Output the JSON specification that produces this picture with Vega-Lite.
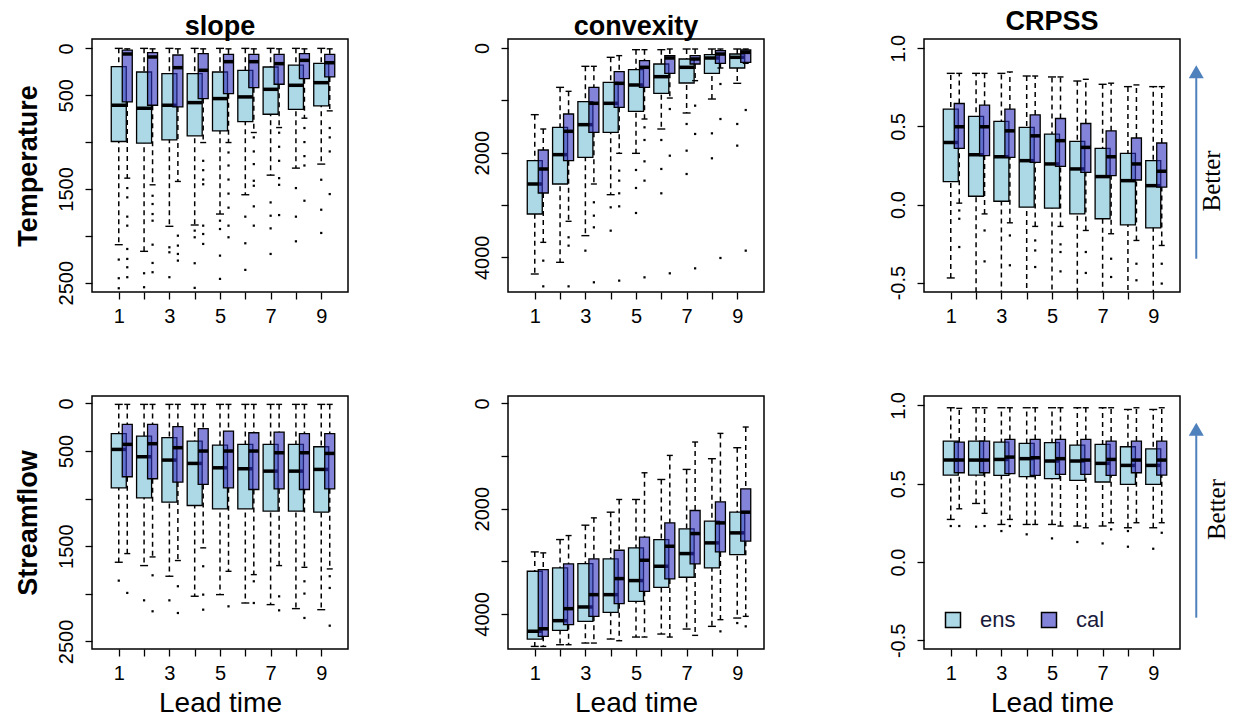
{
"$schema":"https://vega.github.io/schema/vega-lite/v6.json",
"background":"white",
"padding":{"left":13,"top":7,"right":60,"bottom":2},
"datasets":{
"boxes":[
{"panel":"Ts","lead":1,"group":"ens","lo":0,"q1":195,"med":607,"q3":994,"hi":2095},
{"panel":"Ts","lead":2,"group":"ens","lo":0,"q1":252,"med":639,"q3":1012,"hi":2166},
{"panel":"Ts","lead":3,"group":"ens","lo":0,"q1":270,"med":607,"q3":976,"hi":1899},
{"panel":"Ts","lead":4,"group":"ens","lo":0,"q1":270,"med":579,"q3":934,"hi":1885},
{"panel":"Ts","lead":5,"group":"ens","lo":0,"q1":252,"med":536,"q3":880,"hi":1768},
{"panel":"Ts","lead":6,"group":"ens","lo":0,"q1":234,"med":518,"q3":781,"hi":1562},
{"panel":"Ts","lead":7,"group":"ens","lo":0,"q1":199,"med":437,"q3":703,"hi":1353},
{"panel":"Ts","lead":8,"group":"ens","lo":0,"q1":178,"med":394,"q3":650,"hi":1278},
{"panel":"Ts","lead":9,"group":"ens","lo":0,"q1":160,"med":366,"q3":614,"hi":1235},
{"panel":"Ts","lead":1,"group":"cal","lo":5,"q1":18,"med":60,"q3":572,"hi":1385},
{"panel":"Ts","lead":2,"group":"cal","lo":5,"q1":46,"med":92,"q3":607,"hi":1456},
{"panel":"Ts","lead":3,"group":"cal","lo":5,"q1":71,"med":206,"q3":625,"hi":1420},
{"panel":"Ts","lead":4,"group":"cal","lo":5,"q1":57,"med":234,"q3":536,"hi":1005},
{"panel":"Ts","lead":5,"group":"cal","lo":5,"q1":64,"med":142,"q3":483,"hi":1005},
{"panel":"Ts","lead":6,"group":"cal","lo":5,"q1":64,"med":142,"q3":419,"hi":898},
{"panel":"Ts","lead":7,"group":"cal","lo":5,"q1":64,"med":163,"q3":383,"hi":845},
{"panel":"Ts","lead":8,"group":"cal","lo":5,"q1":57,"med":128,"q3":323,"hi":745},
{"panel":"Ts","lead":9,"group":"cal","lo":5,"q1":64,"med":153,"q3":305,"hi":667},
{"panel":"Tc","lead":1,"group":"ens","lo":1274,"q1":2153,"med":2599,"q3":3172,"hi":4319},
{"panel":"Tc","lead":2,"group":"ens","lo":752,"q1":1516,"med":2038,"q3":2599,"hi":4096},
{"panel":"Tc","lead":3,"group":"ens","lo":350,"q1":1026,"med":1465,"q3":2089,"hi":3586},
{"panel":"Tc","lead":4,"group":"ens","lo":178,"q1":656,"med":1057,"q3":1612,"hi":2803},
{"panel":"Tc","lead":5,"group":"ens","lo":32,"q1":414,"med":707,"q3":1210,"hi":2013},
{"panel":"Tc","lead":6,"group":"ens","lo":32,"q1":306,"med":548,"q3":866,"hi":1548},
{"panel":"Tc","lead":7,"group":"ens","lo":19,"q1":210,"med":369,"q3":669,"hi":1242},
{"panel":"Tc","lead":8,"group":"ens","lo":19,"q1":127,"med":191,"q3":484,"hi":975},
{"panel":"Tc","lead":9,"group":"ens","lo":19,"q1":115,"med":178,"q3":382,"hi":675},
{"panel":"Tc","lead":1,"group":"cal","lo":1548,"q1":1949,"med":2312,"q3":2771,"hi":3714},
{"panel":"Tc","lead":2,"group":"cal","lo":828,"q1":1261,"med":1592,"q3":2153,"hi":3312},
{"panel":"Tc","lead":3,"group":"cal","lo":350,"q1":752,"med":1057,"q3":1612,"hi":2599},
{"panel":"Tc","lead":4,"group":"cal","lo":146,"q1":452,"med":675,"q3":1134,"hi":2013},
{"panel":"Tc","lead":5,"group":"cal","lo":32,"q1":242,"med":369,"q3":752,"hi":1357},
{"panel":"Tc","lead":6,"group":"cal","lo":19,"q1":147,"med":191,"q3":484,"hi":956},
{"panel":"Tc","lead":7,"group":"cal","lo":19,"q1":147,"med":210,"q3":306,"hi":624},
{"panel":"Tc","lead":8,"group":"cal","lo":19,"q1":51,"med":115,"q3":293,"hi":382},
{"panel":"Tc","lead":9,"group":"cal","lo":19,"q1":38,"med":83,"q3":274,"hi":293},
{"panel":"Tcr","lead":1,"group":"ens","lo":-0.47,"q1":0.147,"med":0.398,"q3":0.611,"hi":0.84},
{"panel":"Tcr","lead":2,"group":"ens","lo":-0.62,"q1":0.053,"med":0.319,"q3":0.564,"hi":0.84},
{"panel":"Tcr","lead":3,"group":"ens","lo":-0.64,"q1":0.021,"med":0.306,"q3":0.532,"hi":0.84},
{"panel":"Tcr","lead":4,"group":"ens","lo":-0.65,"q1":-0.017,"med":0.281,"q3":0.494,"hi":0.823},
{"panel":"Tcr","lead":5,"group":"ens","lo":-0.66,"q1":-0.023,"med":0.26,"q3":0.451,"hi":0.817},
{"panel":"Tcr","lead":6,"group":"ens","lo":-0.68,"q1":-0.06,"med":0.228,"q3":0.404,"hi":0.791},
{"panel":"Tcr","lead":7,"group":"ens","lo":-0.7,"q1":-0.091,"med":0.179,"q3":0.36,"hi":0.77},
{"panel":"Tcr","lead":8,"group":"ens","lo":-0.72,"q1":-0.13,"med":0.153,"q3":0.328,"hi":0.755},
{"panel":"Tcr","lead":9,"group":"ens","lo":-0.75,"q1":-0.149,"med":0.121,"q3":0.281,"hi":0.755},
{"panel":"Tcr","lead":1,"group":"cal","lo":0.009,"q1":0.36,"med":0.498,"q3":0.647,"hi":0.84},
{"panel":"Tcr","lead":2,"group":"cal","lo":-0.06,"q1":0.313,"med":0.498,"q3":0.636,"hi":0.84},
{"panel":"Tcr","lead":3,"group":"cal","lo":-0.117,"q1":0.302,"med":0.472,"q3":0.611,"hi":0.849},
{"panel":"Tcr","lead":4,"group":"cal","lo":-0.14,"q1":0.27,"med":0.44,"q3":0.574,"hi":0.823},
{"panel":"Tcr","lead":5,"group":"cal","lo":-0.14,"q1":0.245,"med":0.409,"q3":0.551,"hi":0.817},
{"panel":"Tcr","lead":6,"group":"cal","lo":-0.166,"q1":0.206,"med":0.366,"q3":0.519,"hi":0.802},
{"panel":"Tcr","lead":7,"group":"cal","lo":-0.187,"q1":0.185,"med":0.306,"q3":0.472,"hi":0.777},
{"panel":"Tcr","lead":8,"group":"cal","lo":-0.23,"q1":0.157,"med":0.26,"q3":0.426,"hi":0.766},
{"panel":"Tcr","lead":9,"group":"cal","lo":-0.262,"q1":0.111,"med":0.213,"q3":0.394,"hi":0.755},
{"panel":"Ss","lead":1,"group":"ens","lo":11,"q1":319,"med":484,"q3":887,"hi":1669},
{"panel":"Ss","lead":2,"group":"ens","lo":11,"q1":344,"med":561,"q3":992,"hi":1704},
{"panel":"Ss","lead":3,"group":"ens","lo":11,"q1":361,"med":596,"q3":1038,"hi":1816},
{"panel":"Ss","lead":4,"group":"ens","lo":11,"q1":396,"med":631,"q3":1073,"hi":2026},
{"panel":"Ss","lead":5,"group":"ens","lo":11,"q1":438,"med":677,"q3":1108,"hi":2009},
{"panel":"Ss","lead":6,"group":"ens","lo":11,"q1":431,"med":687,"q3":1108,"hi":2097},
{"panel":"Ss","lead":7,"group":"ens","lo":11,"q1":431,"med":712,"q3":1132,"hi":2114},
{"panel":"Ss","lead":8,"group":"ens","lo":11,"q1":431,"med":712,"q3":1132,"hi":2156},
{"panel":"Ss","lead":9,"group":"ens","lo":11,"q1":456,"med":694,"q3":1143,"hi":2167},
{"panel":"Ss","lead":1,"group":"cal","lo":11,"q1":221,"med":431,"q3":771,"hi":1578},
{"panel":"Ss","lead":2,"group":"cal","lo":11,"q1":221,"med":424,"q3":792,"hi":1613},
{"panel":"Ss","lead":3,"group":"cal","lo":11,"q1":245,"med":466,"q3":827,"hi":1651},
{"panel":"Ss","lead":4,"group":"cal","lo":11,"q1":266,"med":501,"q3":852,"hi":1518},
{"panel":"Ss","lead":5,"group":"cal","lo":11,"q1":291,"med":501,"q3":887,"hi":1764},
{"panel":"Ss","lead":6,"group":"cal","lo":11,"q1":309,"med":501,"q3":905,"hi":1799},
{"panel":"Ss","lead":7,"group":"cal","lo":11,"q1":302,"med":519,"q3":898,"hi":1704},
{"panel":"Ss","lead":8,"group":"cal","lo":11,"q1":319,"med":519,"q3":905,"hi":1722},
{"panel":"Ss","lead":9,"group":"cal","lo":11,"q1":319,"med":526,"q3":898,"hi":1739},
{"panel":"Sc","lead":1,"group":"ens","lo":2821,"q1":3189,"med":4330,"q3":4476,"hi":4616},
{"panel":"Sc","lead":2,"group":"ens","lo":2587,"q1":3126,"med":4127,"q3":4311,"hi":4584},
{"panel":"Sc","lead":3,"group":"ens","lo":2314,"q1":3043,"med":3867,"q3":4140,"hi":4552},
{"panel":"Sc","lead":4,"group":"ens","lo":2067,"q1":2954,"med":3633,"q3":3969,"hi":4476},
{"panel":"Sc","lead":5,"group":"ens","lo":1826,"q1":2745,"med":3366,"q3":3760,"hi":4438},
{"panel":"Sc","lead":6,"group":"ens","lo":1446,"q1":2587,"med":3094,"q3":3493,"hi":4381},
{"panel":"Sc","lead":7,"group":"ens","lo":1255,"q1":2384,"med":2853,"q3":3303,"hi":4286},
{"panel":"Sc","lead":8,"group":"ens","lo":1052,"q1":2238,"med":2650,"q3":3126,"hi":4235},
{"panel":"Sc","lead":9,"group":"ens","lo":843,"q1":2067,"med":2460,"q3":2872,"hi":4077},
{"panel":"Sc","lead":1,"group":"cal","lo":2840,"q1":3157,"med":4280,"q3":4425,"hi":4616},
{"panel":"Sc","lead":2,"group":"cal","lo":2511,"q1":3050,"med":3899,"q3":4203,"hi":4584},
{"panel":"Sc","lead":3,"group":"cal","lo":2175,"q1":2954,"med":3633,"q3":4045,"hi":4552},
{"panel":"Sc","lead":4,"group":"cal","lo":1826,"q1":2790,"med":3328,"q3":3804,"hi":4508},
{"panel":"Sc","lead":5,"group":"cal","lo":1319,"q1":2542,"med":2980,"q3":3569,"hi":4438},
{"panel":"Sc","lead":6,"group":"cal","lo":989,"q1":2270,"med":2714,"q3":3335,"hi":4438},
{"panel":"Sc","lead":7,"group":"cal","lo":735,"q1":2035,"med":2473,"q3":3050,"hi":4406},
{"panel":"Sc","lead":8,"group":"cal","lo":571,"q1":1870,"med":2270,"q3":2821,"hi":4108},
{"panel":"Sc","lead":9,"group":"cal","lo":450,"q1":1623,"med":2067,"q3":2618,"hi":4045},
{"panel":"Scr","lead":1,"group":"ens","lo":0.272,"q1":0.555,"med":0.651,"q3":0.772,"hi":0.985},
{"panel":"Scr","lead":2,"group":"ens","lo":0.374,"q1":0.555,"med":0.651,"q3":0.772,"hi":0.985},
{"panel":"Scr","lead":3,"group":"ens","lo":0.24,"q1":0.553,"med":0.655,"q3":0.766,"hi":0.985},
{"panel":"Scr","lead":4,"group":"ens","lo":0.24,"q1":0.545,"med":0.66,"q3":0.757,"hi":0.985},
{"panel":"Scr","lead":5,"group":"ens","lo":0.24,"q1":0.532,"med":0.645,"q3":0.762,"hi":0.985},
{"panel":"Scr","lead":6,"group":"ens","lo":0.23,"q1":0.521,"med":0.645,"q3":0.747,"hi":0.985},
{"panel":"Scr","lead":7,"group":"ens","lo":0.23,"q1":0.511,"med":0.63,"q3":0.751,"hi":0.985},
{"panel":"Scr","lead":8,"group":"ens","lo":0.219,"q1":0.496,"med":0.617,"q3":0.736,"hi":0.974},
{"panel":"Scr","lead":9,"group":"ens","lo":0.219,"q1":0.496,"med":0.617,"q3":0.723,"hi":0.974},
{"panel":"Scr","lead":1,"group":"cal","lo":0.34,"q1":0.57,"med":0.651,"q3":0.766,"hi":0.981},
{"panel":"Scr","lead":2,"group":"cal","lo":0.311,"q1":0.57,"med":0.651,"q3":0.772,"hi":0.985},
{"panel":"Scr","lead":3,"group":"cal","lo":0.272,"q1":0.564,"med":0.67,"q3":0.783,"hi":0.985},
{"panel":"Scr","lead":4,"group":"cal","lo":0.24,"q1":0.553,"med":0.666,"q3":0.783,"hi":0.985},
{"panel":"Scr","lead":5,"group":"cal","lo":0.23,"q1":0.56,"med":0.66,"q3":0.783,"hi":0.985},
{"panel":"Scr","lead":6,"group":"cal","lo":0.219,"q1":0.56,"med":0.651,"q3":0.783,"hi":0.985},
{"panel":"Scr","lead":7,"group":"cal","lo":0.251,"q1":0.553,"med":0.655,"q3":0.772,"hi":0.985},
{"panel":"Scr","lead":8,"group":"cal","lo":0.251,"q1":0.57,"med":0.651,"q3":0.772,"hi":0.985},
{"panel":"Scr","lead":9,"group":"cal","lo":0.251,"q1":0.555,"med":0.651,"q3":0.772,"hi":0.985}
],
"outs":[
{"panel":"Ts","lead":1,"group":"ens","v":2254},{"panel":"Ts","lead":1,"group":"ens","v":2453},{"panel":"Ts","lead":1,"group":"ens","v":2560},
{"panel":"Ts","lead":1,"group":"cal","v":1491},{"panel":"Ts","lead":1,"group":"cal","v":1590},{"panel":"Ts","lead":1,"group":"cal","v":1796},{"panel":"Ts","lead":1,"group":"cal","v":1892},{"panel":"Ts","lead":1,"group":"cal","v":2141},{"panel":"Ts","lead":1,"group":"cal","v":2247},{"panel":"Ts","lead":1,"group":"cal","v":2336},{"panel":"Ts","lead":1,"group":"cal","v":2442},
{"panel":"Ts","lead":2,"group":"ens","v":2400},{"panel":"Ts","lead":2,"group":"ens","v":2549},
{"panel":"Ts","lead":2,"group":"cal","v":1573},{"panel":"Ts","lead":2,"group":"cal","v":1661},{"panel":"Ts","lead":2,"group":"cal","v":1768},{"panel":"Ts","lead":2,"group":"cal","v":1839},{"panel":"Ts","lead":2,"group":"cal","v":2095},{"panel":"Ts","lead":2,"group":"cal","v":2290},{"panel":"Ts","lead":2,"group":"cal","v":2389},
{"panel":"Ts","lead":3,"group":"ens","v":2123},{"panel":"Ts","lead":3,"group":"ens","v":2176},{"panel":"Ts","lead":3,"group":"ens","v":2442},
{"panel":"Ts","lead":3,"group":"cal","v":1999},{"panel":"Ts","lead":3,"group":"cal","v":2105},{"panel":"Ts","lead":3,"group":"cal","v":2194},{"panel":"Ts","lead":3,"group":"cal","v":2265},
{"panel":"Ts","lead":4,"group":"ens","v":1945},{"panel":"Ts","lead":4,"group":"ens","v":2016},{"panel":"Ts","lead":4,"group":"ens","v":2293},{"panel":"Ts","lead":4,"group":"ens","v":2556},
{"panel":"Ts","lead":4,"group":"cal","v":1200},{"panel":"Ts","lead":4,"group":"cal","v":1300},{"panel":"Ts","lead":4,"group":"cal","v":1400},{"panel":"Ts","lead":4,"group":"cal","v":1450},{"panel":"Ts","lead":4,"group":"cal","v":1892},{"panel":"Ts","lead":4,"group":"cal","v":1981},{"panel":"Ts","lead":4,"group":"cal","v":2087},
{"panel":"Ts","lead":5,"group":"ens","v":1839},{"panel":"Ts","lead":5,"group":"ens","v":1928},{"panel":"Ts","lead":5,"group":"ens","v":2212},{"panel":"Ts","lead":5,"group":"ens","v":2460},
{"panel":"Ts","lead":5,"group":"cal","v":1111},{"panel":"Ts","lead":5,"group":"cal","v":1250},{"panel":"Ts","lead":5,"group":"cal","v":1400},{"panel":"Ts","lead":5,"group":"cal","v":1550},{"panel":"Ts","lead":5,"group":"cal","v":1700},{"panel":"Ts","lead":5,"group":"cal","v":1892},{"panel":"Ts","lead":5,"group":"cal","v":2016},
{"panel":"Ts","lead":6,"group":"ens","v":1796},{"panel":"Ts","lead":6,"group":"ens","v":2080},{"panel":"Ts","lead":6,"group":"ens","v":2364},
{"panel":"Ts","lead":6,"group":"cal","v":950},{"panel":"Ts","lead":6,"group":"cal","v":1100},{"panel":"Ts","lead":6,"group":"cal","v":1235},{"panel":"Ts","lead":6,"group":"cal","v":1413},{"panel":"Ts","lead":6,"group":"cal","v":1466},{"panel":"Ts","lead":6,"group":"cal","v":1686},{"panel":"Ts","lead":6,"group":"cal","v":1892},
{"panel":"Ts","lead":7,"group":"ens","v":1644},{"panel":"Ts","lead":7,"group":"ens","v":1786},{"panel":"Ts","lead":7,"group":"ens","v":1921},{"panel":"Ts","lead":7,"group":"ens","v":2194},
{"panel":"Ts","lead":7,"group":"cal","v":900},{"panel":"Ts","lead":7,"group":"cal","v":1050},{"panel":"Ts","lead":7,"group":"cal","v":1200},{"panel":"Ts","lead":7,"group":"cal","v":1385},{"panel":"Ts","lead":7,"group":"cal","v":1456},{"panel":"Ts","lead":7,"group":"cal","v":1779},
{"panel":"Ts","lead":8,"group":"ens","v":1491},{"panel":"Ts","lead":8,"group":"ens","v":1796},{"panel":"Ts","lead":8,"group":"ens","v":2059},
{"panel":"Ts","lead":8,"group":"cal","v":850},{"panel":"Ts","lead":8,"group":"cal","v":1000},{"panel":"Ts","lead":8,"group":"cal","v":1150},{"panel":"Ts","lead":8,"group":"cal","v":1250},{"panel":"Ts","lead":8,"group":"cal","v":1626},
{"panel":"Ts","lead":9,"group":"ens","v":1402},{"panel":"Ts","lead":9,"group":"ens","v":1722},{"panel":"Ts","lead":9,"group":"ens","v":1970},
{"panel":"Ts","lead":9,"group":"cal","v":850},{"panel":"Ts","lead":9,"group":"cal","v":950},{"panel":"Ts","lead":9,"group":"cal","v":1100},{"panel":"Ts","lead":9,"group":"cal","v":1555},
{"panel":"Tc","lead":1,"group":"cal","v":4064},{"panel":"Tc","lead":1,"group":"cal","v":4555},
{"panel":"Tc","lead":2,"group":"cal","v":3618},{"panel":"Tc","lead":2,"group":"cal","v":3777},{"panel":"Tc","lead":2,"group":"cal","v":4555},
{"panel":"Tc","lead":3,"group":"ens","v":3873},
{"panel":"Tc","lead":3,"group":"cal","v":2949},{"panel":"Tc","lead":3,"group":"cal","v":3204},{"panel":"Tc","lead":3,"group":"cal","v":3427},{"panel":"Tc","lead":3,"group":"cal","v":4478},
{"panel":"Tc","lead":4,"group":"ens","v":3045},{"panel":"Tc","lead":4,"group":"ens","v":3491},
{"panel":"Tc","lead":4,"group":"cal","v":2344},{"panel":"Tc","lead":4,"group":"cal","v":2535},{"panel":"Tc","lead":4,"group":"cal","v":2777},{"panel":"Tc","lead":4,"group":"cal","v":3026},{"panel":"Tc","lead":4,"group":"cal","v":4446},
{"panel":"Tc","lead":5,"group":"ens","v":2331},{"panel":"Tc","lead":5,"group":"ens","v":2675},{"panel":"Tc","lead":5,"group":"ens","v":3153},
{"panel":"Tc","lead":5,"group":"cal","v":1516},{"panel":"Tc","lead":5,"group":"cal","v":1758},{"panel":"Tc","lead":5,"group":"cal","v":2166},{"panel":"Tc","lead":5,"group":"cal","v":2535},{"panel":"Tc","lead":5,"group":"cal","v":4383},
{"panel":"Tc","lead":6,"group":"ens","v":1758},{"panel":"Tc","lead":6,"group":"ens","v":2312},{"panel":"Tc","lead":6,"group":"ens","v":2777},
{"panel":"Tc","lead":6,"group":"cal","v":1166},{"panel":"Tc","lead":6,"group":"cal","v":2058},{"panel":"Tc","lead":6,"group":"cal","v":4306},
{"panel":"Tc","lead":7,"group":"ens","v":1452},{"panel":"Tc","lead":7,"group":"ens","v":1962},{"panel":"Tc","lead":7,"group":"ens","v":2408},
{"panel":"Tc","lead":7,"group":"cal","v":1102},{"panel":"Tc","lead":7,"group":"cal","v":1643},{"panel":"Tc","lead":7,"group":"cal","v":4211},
{"panel":"Tc","lead":8,"group":"ens","v":1631},{"panel":"Tc","lead":8,"group":"ens","v":2108},
{"panel":"Tc","lead":8,"group":"cal","v":688},{"panel":"Tc","lead":8,"group":"cal","v":1357},{"panel":"Tc","lead":8,"group":"cal","v":4013},
{"panel":"Tc","lead":9,"group":"ens","v":1452},{"panel":"Tc","lead":9,"group":"ens","v":1866},
{"panel":"Tc","lead":9,"group":"cal","v":1185},{"panel":"Tc","lead":9,"group":"cal","v":3873},
{"panel":"Tcr","lead":1,"group":"cal","v":-0.038},{"panel":"Tcr","lead":1,"group":"cal","v":-0.091},{"panel":"Tcr","lead":1,"group":"cal","v":-0.272},
{"panel":"Tcr","lead":2,"group":"cal","v":-0.166},{"panel":"Tcr","lead":2,"group":"cal","v":-0.364},
{"panel":"Tcr","lead":3,"group":"cal","v":-0.198},{"panel":"Tcr","lead":3,"group":"cal","v":-0.389},
{"panel":"Tcr","lead":4,"group":"cal","v":-0.23},{"panel":"Tcr","lead":4,"group":"cal","v":-0.294},{"panel":"Tcr","lead":4,"group":"cal","v":-0.4},
{"panel":"Tcr","lead":5,"group":"cal","v":-0.255},{"panel":"Tcr","lead":5,"group":"cal","v":-0.304},{"panel":"Tcr","lead":5,"group":"cal","v":-0.428},
{"panel":"Tcr","lead":6,"group":"cal","v":-0.304},{"panel":"Tcr","lead":6,"group":"cal","v":-0.438},
{"panel":"Tcr","lead":7,"group":"cal","v":-0.347},{"panel":"Tcr","lead":7,"group":"cal","v":-0.464},
{"panel":"Tcr","lead":8,"group":"cal","v":-0.379},{"panel":"Tcr","lead":8,"group":"cal","v":-0.485},
{"panel":"Tcr","lead":9,"group":"cal","v":-0.379},{"panel":"Tcr","lead":9,"group":"cal","v":-0.506},
{"panel":"Ss","lead":1,"group":"ens","v":1862},{"panel":"Ss","lead":1,"group":"cal","v":1991},
{"panel":"Ss","lead":2,"group":"ens","v":2069},{"panel":"Ss","lead":2,"group":"cal","v":1806},{"panel":"Ss","lead":2,"group":"cal","v":2184},
{"panel":"Ss","lead":3,"group":"ens","v":2069},{"panel":"Ss","lead":3,"group":"cal","v":1921},{"panel":"Ss","lead":3,"group":"cal","v":2202},
{"panel":"Ss","lead":4,"group":"cal","v":1711},{"panel":"Ss","lead":4,"group":"cal","v":2009},{"panel":"Ss","lead":4,"group":"cal","v":2167},
{"panel":"Ss","lead":5,"group":"cal","v":2132},
{"panel":"Ss","lead":6,"group":"cal","v":1869},{"panel":"Ss","lead":6,"group":"cal","v":2097},
{"panel":"Ss","lead":7,"group":"cal","v":2027},{"panel":"Ss","lead":7,"group":"cal","v":2174},
{"panel":"Ss","lead":8,"group":"cal","v":1869},{"panel":"Ss","lead":8,"group":"cal","v":1998},{"panel":"Ss","lead":8,"group":"cal","v":2254},
{"panel":"Ss","lead":9,"group":"cal","v":1816},{"panel":"Ss","lead":9,"group":"cal","v":1939},{"panel":"Ss","lead":9,"group":"cal","v":2335},
{"panel":"Sc","lead":8,"group":"cal","v":4330},{"panel":"Sc","lead":9,"group":"ens","v":4172},{"panel":"Sc","lead":9,"group":"cal","v":4235},
{"panel":"Scr","lead":1,"group":"ens","v":0.23},{"panel":"Scr","lead":1,"group":"cal","v":0.23},
{"panel":"Scr","lead":2,"group":"ens","v":0.226},{"panel":"Scr","lead":2,"group":"cal","v":0.23},
{"panel":"Scr","lead":3,"group":"ens","v":0.198},{"panel":"Scr","lead":3,"group":"cal","v":0.23},
{"panel":"Scr","lead":4,"group":"ens","v":0.177},{"panel":"Scr","lead":5,"group":"ens","v":0.151},
{"panel":"Scr","lead":6,"group":"ens","v":0.128},{"panel":"Scr","lead":7,"group":"ens","v":0.119},{"panel":"Scr","lead":7,"group":"cal","v":0.209},
{"panel":"Scr","lead":8,"group":"ens","v":0.198},{"panel":"Scr","lead":8,"group":"ens","v":0.098},
{"panel":"Scr","lead":9,"group":"ens","v":0.085},{"panel":"Scr","lead":9,"group":"cal","v":0.187}
],
"arrow":[{"lead":10.7}],
"better_top":[{"lead":11.33,"label":"Better"}],
"better_bottom":[{"lead":11.52,"label":"Better"}]
},
"columns":3,
"spacing":{"row":104,"column":160},
"bounds":"flush",
"resolve":{"scale":{"fill":"independent"},"legend":{"fill":"independent"}},
"concat":[
{
"width":256,"height":253,"title":"slope",
"encoding":{"x":{"field":"lead","type":"quantitative","scale":{"domain":[0.14,9.86],"nice":false,"zero":false},"axis":{"values":[1,2,3,4,5,6,7,8,9],"labelExpr":"datum.value%2==1?datum.label:''","title":null}}},
"layer":[
{"data":{"name":"boxes"},"transform":[{"filter":"datum.panel=='Ts'&&datum.group=='ens'"}],"mark":{"type":"rule","strokeDash":[5,4],"strokeWidth":1.5,"color":"black","clip":true},"encoding":{"y":{"field":"lo","type":"quantitative","scale":{"domain":[-100,2600],"reverse":true,"nice":false,"zero":false},"axis":{"values":[0,500,1000,1500,2000,2500],"format":"d","labelExpr":"datum.value==1000||datum.value==2000?'':datum.label","title":"Temperature"}},"y2":{"field":"hi"}}},
{"data":{"name":"boxes"},"transform":[{"filter":"datum.panel=='Ts'&&datum.group=='ens'"}],"mark":{"type":"tick","orient":"horizontal","size":8,"thickness":1.4,"color":"black","opacity":1,"clip":true},"encoding":{"y":{"field":"lo","type":"quantitative","scale":{"domain":[-100,2600],"reverse":true,"nice":false,"zero":false}}}},
{"data":{"name":"boxes"},"transform":[{"filter":"datum.panel=='Ts'&&datum.group=='ens'"}],"mark":{"type":"tick","orient":"horizontal","size":8,"thickness":1.4,"color":"black","opacity":1,"clip":true},"encoding":{"y":{"field":"hi","type":"quantitative","scale":{"domain":[-100,2600],"reverse":true,"nice":false,"zero":false}}}},
{"data":{"name":"boxes"},"transform":[{"filter":"datum.panel=='Ts'&&datum.group=='ens'"}],"mark":{"type":"bar","width":15,"fill":"#ADD8E6","stroke":"black","strokeWidth":1.3},"encoding":{"y":{"field":"q1","type":"quantitative","scale":{"domain":[-100,2600],"reverse":true,"nice":false,"zero":false}},"y2":{"field":"q3"}}},
{"data":{"name":"boxes"},"transform":[{"filter":"datum.panel=='Ts'&&datum.group=='ens'"}],"mark":{"type":"tick","orient":"horizontal","size":15,"thickness":3.5,"color":"black","opacity":1},"encoding":{"y":{"field":"med","type":"quantitative","scale":{"domain":[-100,2600],"reverse":true,"nice":false,"zero":false}}}},
{"data":{"name":"boxes"},"transform":[{"filter":"datum.panel=='Ts'&&datum.group=='cal'"}],"mark":{"type":"rule","strokeDash":[5,4],"strokeWidth":1.5,"color":"black","clip":true,"xOffset":8.5},"encoding":{"y":{"field":"lo","type":"quantitative","scale":{"domain":[-100,2600],"reverse":true,"nice":false,"zero":false}},"y2":{"field":"q1"}}},
{"data":{"name":"boxes"},"transform":[{"filter":"datum.panel=='Ts'&&datum.group=='cal'"}],"mark":{"type":"rule","strokeDash":[5,4],"strokeWidth":1.5,"color":"black","clip":true,"xOffset":8.5},"encoding":{"y":{"field":"q3","type":"quantitative","scale":{"domain":[-100,2600],"reverse":true,"nice":false,"zero":false}},"y2":{"field":"hi"}}},
{"data":{"name":"boxes"},"transform":[{"filter":"datum.panel=='Ts'&&datum.group=='cal'"}],"mark":{"type":"tick","orient":"horizontal","size":6,"thickness":1.4,"color":"black","opacity":1,"clip":true,"xOffset":8.5},"encoding":{"y":{"field":"lo","type":"quantitative","scale":{"domain":[-100,2600],"reverse":true,"nice":false,"zero":false}}}},
{"data":{"name":"boxes"},"transform":[{"filter":"datum.panel=='Ts'&&datum.group=='cal'"}],"mark":{"type":"tick","orient":"horizontal","size":6,"thickness":1.4,"color":"black","opacity":1,"clip":true,"xOffset":8.5},"encoding":{"y":{"field":"hi","type":"quantitative","scale":{"domain":[-100,2600],"reverse":true,"nice":false,"zero":false}}}},
{"data":{"name":"boxes"},"transform":[{"filter":"datum.panel=='Ts'&&datum.group=='cal'"}],"mark":{"type":"bar","width":10,"fill":"rgba(48,48,192,0.6)","stroke":"black","strokeWidth":1.3,"xOffset":8.5},"encoding":{"y":{"field":"q1","type":"quantitative","scale":{"domain":[-100,2600],"reverse":true,"nice":false,"zero":false}},"y2":{"field":"q3"}}},
{"data":{"name":"boxes"},"transform":[{"filter":"datum.panel=='Ts'&&datum.group=='cal'"}],"mark":{"type":"tick","orient":"horizontal","size":10,"thickness":3.5,"color":"black","opacity":1,"xOffset":8.5},"encoding":{"y":{"field":"med","type":"quantitative","scale":{"domain":[-100,2600],"reverse":true,"nice":false,"zero":false}}}},
{"data":{"name":"outs"},"transform":[{"filter":"datum.panel=='Ts'&&datum.group=='ens'"}],"mark":{"type":"square","size":5,"color":"black","opacity":1},"encoding":{"y":{"field":"v","type":"quantitative","scale":{"domain":[-100,2600],"reverse":true,"nice":false,"zero":false}}}},
{"data":{"name":"outs"},"transform":[{"filter":"datum.panel=='Ts'&&datum.group=='cal'"}],"mark":{"type":"square","size":5,"color":"black","opacity":1,"xOffset":8.5},"encoding":{"y":{"field":"v","type":"quantitative","scale":{"domain":[-100,2600],"reverse":true,"nice":false,"zero":false}}}}
]
},
{
"width":256,"height":253,"title":"convexity",
"encoding":{"x":{"field":"lead","type":"quantitative","scale":{"domain":[0.14,9.86],"nice":false,"zero":false},"axis":{"values":[1,2,3,4,5,6,7,8,9],"labelExpr":"datum.value%2==1?datum.label:''","title":null}}},
"layer":[
{"data":{"name":"boxes"},"transform":[{"filter":"datum.panel=='Tc'&&datum.group=='ens'"}],"mark":{"type":"rule","strokeDash":[5,4],"strokeWidth":1.5,"color":"black","clip":true},"encoding":{"y":{"field":"lo","type":"quantitative","scale":{"domain":[-172,4663],"reverse":true,"nice":false,"zero":false},"axis":{"values":[0,1000,2000,3000,4000],"format":"d","labelExpr":"datum.value==1000||datum.value==3000?'':datum.label","title":null}},"y2":{"field":"hi"}}},
{"data":{"name":"boxes"},"transform":[{"filter":"datum.panel=='Tc'&&datum.group=='ens'"}],"mark":{"type":"tick","orient":"horizontal","size":8,"thickness":1.4,"color":"black","opacity":1,"clip":true},"encoding":{"y":{"field":"lo","type":"quantitative","scale":{"domain":[-172,4663],"reverse":true,"nice":false,"zero":false}}}},
{"data":{"name":"boxes"},"transform":[{"filter":"datum.panel=='Tc'&&datum.group=='ens'"}],"mark":{"type":"tick","orient":"horizontal","size":8,"thickness":1.4,"color":"black","opacity":1,"clip":true},"encoding":{"y":{"field":"hi","type":"quantitative","scale":{"domain":[-172,4663],"reverse":true,"nice":false,"zero":false}}}},
{"data":{"name":"boxes"},"transform":[{"filter":"datum.panel=='Tc'&&datum.group=='ens'"}],"mark":{"type":"bar","width":15,"fill":"#ADD8E6","stroke":"black","strokeWidth":1.3},"encoding":{"y":{"field":"q1","type":"quantitative","scale":{"domain":[-172,4663],"reverse":true,"nice":false,"zero":false}},"y2":{"field":"q3"}}},
{"data":{"name":"boxes"},"transform":[{"filter":"datum.panel=='Tc'&&datum.group=='ens'"}],"mark":{"type":"tick","orient":"horizontal","size":15,"thickness":3.5,"color":"black","opacity":1},"encoding":{"y":{"field":"med","type":"quantitative","scale":{"domain":[-172,4663],"reverse":true,"nice":false,"zero":false}}}},
{"data":{"name":"boxes"},"transform":[{"filter":"datum.panel=='Tc'&&datum.group=='cal'"}],"mark":{"type":"rule","strokeDash":[5,4],"strokeWidth":1.5,"color":"black","clip":true,"xOffset":8.5},"encoding":{"y":{"field":"lo","type":"quantitative","scale":{"domain":[-172,4663],"reverse":true,"nice":false,"zero":false}},"y2":{"field":"q1"}}},
{"data":{"name":"boxes"},"transform":[{"filter":"datum.panel=='Tc'&&datum.group=='cal'"}],"mark":{"type":"rule","strokeDash":[5,4],"strokeWidth":1.5,"color":"black","clip":true,"xOffset":8.5},"encoding":{"y":{"field":"q3","type":"quantitative","scale":{"domain":[-172,4663],"reverse":true,"nice":false,"zero":false}},"y2":{"field":"hi"}}},
{"data":{"name":"boxes"},"transform":[{"filter":"datum.panel=='Tc'&&datum.group=='cal'"}],"mark":{"type":"tick","orient":"horizontal","size":6,"thickness":1.4,"color":"black","opacity":1,"clip":true,"xOffset":8.5},"encoding":{"y":{"field":"lo","type":"quantitative","scale":{"domain":[-172,4663],"reverse":true,"nice":false,"zero":false}}}},
{"data":{"name":"boxes"},"transform":[{"filter":"datum.panel=='Tc'&&datum.group=='cal'"}],"mark":{"type":"tick","orient":"horizontal","size":6,"thickness":1.4,"color":"black","opacity":1,"clip":true,"xOffset":8.5},"encoding":{"y":{"field":"hi","type":"quantitative","scale":{"domain":[-172,4663],"reverse":true,"nice":false,"zero":false}}}},
{"data":{"name":"boxes"},"transform":[{"filter":"datum.panel=='Tc'&&datum.group=='cal'"}],"mark":{"type":"bar","width":10,"fill":"rgba(48,48,192,0.6)","stroke":"black","strokeWidth":1.3,"xOffset":8.5},"encoding":{"y":{"field":"q1","type":"quantitative","scale":{"domain":[-172,4663],"reverse":true,"nice":false,"zero":false}},"y2":{"field":"q3"}}},
{"data":{"name":"boxes"},"transform":[{"filter":"datum.panel=='Tc'&&datum.group=='cal'"}],"mark":{"type":"tick","orient":"horizontal","size":10,"thickness":3.5,"color":"black","opacity":1,"xOffset":8.5},"encoding":{"y":{"field":"med","type":"quantitative","scale":{"domain":[-172,4663],"reverse":true,"nice":false,"zero":false}}}},
{"data":{"name":"outs"},"transform":[{"filter":"datum.panel=='Tc'&&datum.group=='ens'"}],"mark":{"type":"square","size":5,"color":"black","opacity":1},"encoding":{"y":{"field":"v","type":"quantitative","scale":{"domain":[-172,4663],"reverse":true,"nice":false,"zero":false}}}},
{"data":{"name":"outs"},"transform":[{"filter":"datum.panel=='Tc'&&datum.group=='cal'"}],"mark":{"type":"square","size":5,"color":"black","opacity":1,"xOffset":8.5},"encoding":{"y":{"field":"v","type":"quantitative","scale":{"domain":[-172,4663],"reverse":true,"nice":false,"zero":false}}}}
]
},
{
"width":256,"height":253,"title":"CRPSS",
"encoding":{"x":{"field":"lead","type":"quantitative","scale":{"domain":[0.14,9.86],"nice":false,"zero":false},"axis":{"values":[1,2,3,4,5,6,7,8,9],"labelExpr":"datum.value%2==1?datum.label:''","title":null}}},
"layer":[
{"data":{"name":"boxes"},"transform":[{"filter":"datum.panel=='Tcr'&&datum.group=='ens'"}],"mark":{"type":"rule","strokeDash":[5,4],"strokeWidth":1.5,"color":"black","clip":true},"encoding":{"y":{"field":"lo","type":"quantitative","scale":{"domain":[-0.56,1.06],"nice":false,"zero":false},"axis":{"values":[-0.5,0,0.5,1],"format":".1f","labelExpr":"replace(datum.label,'\u2212','-')","title":null}},"y2":{"field":"hi"}}},
{"data":{"name":"boxes"},"transform":[{"filter":"datum.panel=='Tcr'&&datum.group=='ens'"}],"mark":{"type":"tick","orient":"horizontal","size":8,"thickness":1.4,"color":"black","opacity":1,"clip":true},"encoding":{"y":{"field":"lo","type":"quantitative","scale":{"domain":[-0.56,1.06],"nice":false,"zero":false}}}},
{"data":{"name":"boxes"},"transform":[{"filter":"datum.panel=='Tcr'&&datum.group=='ens'"}],"mark":{"type":"tick","orient":"horizontal","size":8,"thickness":1.4,"color":"black","opacity":1,"clip":true},"encoding":{"y":{"field":"hi","type":"quantitative","scale":{"domain":[-0.56,1.06],"nice":false,"zero":false}}}},
{"data":{"name":"boxes"},"transform":[{"filter":"datum.panel=='Tcr'&&datum.group=='ens'"}],"mark":{"type":"bar","width":15,"fill":"#ADD8E6","stroke":"black","strokeWidth":1.3},"encoding":{"y":{"field":"q1","type":"quantitative","scale":{"domain":[-0.56,1.06],"nice":false,"zero":false}},"y2":{"field":"q3"}}},
{"data":{"name":"boxes"},"transform":[{"filter":"datum.panel=='Tcr'&&datum.group=='ens'"}],"mark":{"type":"tick","orient":"horizontal","size":15,"thickness":3.5,"color":"black","opacity":1},"encoding":{"y":{"field":"med","type":"quantitative","scale":{"domain":[-0.56,1.06],"nice":false,"zero":false}}}},
{"data":{"name":"boxes"},"transform":[{"filter":"datum.panel=='Tcr'&&datum.group=='cal'"}],"mark":{"type":"rule","strokeDash":[5,4],"strokeWidth":1.5,"color":"black","clip":true,"xOffset":8.5},"encoding":{"y":{"field":"lo","type":"quantitative","scale":{"domain":[-0.56,1.06],"nice":false,"zero":false}},"y2":{"field":"q1"}}},
{"data":{"name":"boxes"},"transform":[{"filter":"datum.panel=='Tcr'&&datum.group=='cal'"}],"mark":{"type":"rule","strokeDash":[5,4],"strokeWidth":1.5,"color":"black","clip":true,"xOffset":8.5},"encoding":{"y":{"field":"q3","type":"quantitative","scale":{"domain":[-0.56,1.06],"nice":false,"zero":false}},"y2":{"field":"hi"}}},
{"data":{"name":"boxes"},"transform":[{"filter":"datum.panel=='Tcr'&&datum.group=='cal'"}],"mark":{"type":"tick","orient":"horizontal","size":6,"thickness":1.4,"color":"black","opacity":1,"clip":true,"xOffset":8.5},"encoding":{"y":{"field":"lo","type":"quantitative","scale":{"domain":[-0.56,1.06],"nice":false,"zero":false}}}},
{"data":{"name":"boxes"},"transform":[{"filter":"datum.panel=='Tcr'&&datum.group=='cal'"}],"mark":{"type":"tick","orient":"horizontal","size":6,"thickness":1.4,"color":"black","opacity":1,"clip":true,"xOffset":8.5},"encoding":{"y":{"field":"hi","type":"quantitative","scale":{"domain":[-0.56,1.06],"nice":false,"zero":false}}}},
{"data":{"name":"boxes"},"transform":[{"filter":"datum.panel=='Tcr'&&datum.group=='cal'"}],"mark":{"type":"bar","width":10,"fill":"rgba(48,48,192,0.6)","stroke":"black","strokeWidth":1.3,"xOffset":8.5},"encoding":{"y":{"field":"q1","type":"quantitative","scale":{"domain":[-0.56,1.06],"nice":false,"zero":false}},"y2":{"field":"q3"}}},
{"data":{"name":"boxes"},"transform":[{"filter":"datum.panel=='Tcr'&&datum.group=='cal'"}],"mark":{"type":"tick","orient":"horizontal","size":10,"thickness":3.5,"color":"black","opacity":1,"xOffset":8.5},"encoding":{"y":{"field":"med","type":"quantitative","scale":{"domain":[-0.56,1.06],"nice":false,"zero":false}}}},
{"data":{"name":"outs"},"transform":[{"filter":"datum.panel=='Tcr'&&datum.group=='cal'"}],"mark":{"type":"square","size":5,"color":"black","opacity":1,"xOffset":8.5},"encoding":{"y":{"field":"v","type":"quantitative","scale":{"domain":[-0.56,1.06],"nice":false,"zero":false}}}},
{"data":{"name":"arrow"},"mark":{"type":"rule","color":"#4F81BD","strokeWidth":2},"encoding":{"y":{"datum":-0.347,"type":"quantitative"},"y2":{"datum":0.81}}},
{"data":{"name":"arrow"},"mark":{"type":"point","shape":"triangle-up","filled":true,"size":225,"color":"#4F81BD","opacity":1},"encoding":{"y":{"datum":0.85,"type":"quantitative"}}},
{"data":{"name":"better_top"},"mark":{"type":"text","angle":270,"font":"Liberation Serif","fontSize":25,"color":"black","align":"center","baseline":"middle"},"encoding":{"y":{"datum":0.151,"type":"quantitative"},"text":{"field":"label"}}}
]
},
{
"width":256,"height":253,
"encoding":{"x":{"field":"lead","type":"quantitative","scale":{"domain":[0.14,9.86],"nice":false,"zero":false},"axis":{"values":[1,2,3,4,5,6,7,8,9],"labelExpr":"datum.value%2==1?datum.label:''","title":"Lead time"}}},
"layer":[
{"data":{"name":"boxes"},"transform":[{"filter":"datum.panel=='Ss'&&datum.group=='ens'"}],"mark":{"type":"rule","strokeDash":[5,4],"strokeWidth":1.5,"color":"black","clip":true},"encoding":{"y":{"field":"lo","type":"quantitative","scale":{"domain":[-77,2580],"reverse":true,"nice":false,"zero":false},"axis":{"values":[0,500,1000,1500,2000,2500],"format":"d","labelExpr":"datum.value==1000||datum.value==2000?'':datum.label","title":"Streamflow"}},"y2":{"field":"hi"}}},
{"data":{"name":"boxes"},"transform":[{"filter":"datum.panel=='Ss'&&datum.group=='ens'"}],"mark":{"type":"tick","orient":"horizontal","size":8,"thickness":1.4,"color":"black","opacity":1,"clip":true},"encoding":{"y":{"field":"lo","type":"quantitative","scale":{"domain":[-77,2580],"reverse":true,"nice":false,"zero":false}}}},
{"data":{"name":"boxes"},"transform":[{"filter":"datum.panel=='Ss'&&datum.group=='ens'"}],"mark":{"type":"tick","orient":"horizontal","size":8,"thickness":1.4,"color":"black","opacity":1,"clip":true},"encoding":{"y":{"field":"hi","type":"quantitative","scale":{"domain":[-77,2580],"reverse":true,"nice":false,"zero":false}}}},
{"data":{"name":"boxes"},"transform":[{"filter":"datum.panel=='Ss'&&datum.group=='ens'"}],"mark":{"type":"bar","width":15,"fill":"#ADD8E6","stroke":"black","strokeWidth":1.3},"encoding":{"y":{"field":"q1","type":"quantitative","scale":{"domain":[-77,2580],"reverse":true,"nice":false,"zero":false}},"y2":{"field":"q3"}}},
{"data":{"name":"boxes"},"transform":[{"filter":"datum.panel=='Ss'&&datum.group=='ens'"}],"mark":{"type":"tick","orient":"horizontal","size":15,"thickness":3.5,"color":"black","opacity":1},"encoding":{"y":{"field":"med","type":"quantitative","scale":{"domain":[-77,2580],"reverse":true,"nice":false,"zero":false}}}},
{"data":{"name":"boxes"},"transform":[{"filter":"datum.panel=='Ss'&&datum.group=='cal'"}],"mark":{"type":"rule","strokeDash":[5,4],"strokeWidth":1.5,"color":"black","clip":true,"xOffset":8.5},"encoding":{"y":{"field":"lo","type":"quantitative","scale":{"domain":[-77,2580],"reverse":true,"nice":false,"zero":false}},"y2":{"field":"q1"}}},
{"data":{"name":"boxes"},"transform":[{"filter":"datum.panel=='Ss'&&datum.group=='cal'"}],"mark":{"type":"rule","strokeDash":[5,4],"strokeWidth":1.5,"color":"black","clip":true,"xOffset":8.5},"encoding":{"y":{"field":"q3","type":"quantitative","scale":{"domain":[-77,2580],"reverse":true,"nice":false,"zero":false}},"y2":{"field":"hi"}}},
{"data":{"name":"boxes"},"transform":[{"filter":"datum.panel=='Ss'&&datum.group=='cal'"}],"mark":{"type":"tick","orient":"horizontal","size":6,"thickness":1.4,"color":"black","opacity":1,"clip":true,"xOffset":8.5},"encoding":{"y":{"field":"lo","type":"quantitative","scale":{"domain":[-77,2580],"reverse":true,"nice":false,"zero":false}}}},
{"data":{"name":"boxes"},"transform":[{"filter":"datum.panel=='Ss'&&datum.group=='cal'"}],"mark":{"type":"tick","orient":"horizontal","size":6,"thickness":1.4,"color":"black","opacity":1,"clip":true,"xOffset":8.5},"encoding":{"y":{"field":"hi","type":"quantitative","scale":{"domain":[-77,2580],"reverse":true,"nice":false,"zero":false}}}},
{"data":{"name":"boxes"},"transform":[{"filter":"datum.panel=='Ss'&&datum.group=='cal'"}],"mark":{"type":"bar","width":10,"fill":"rgba(48,48,192,0.6)","stroke":"black","strokeWidth":1.3,"xOffset":8.5},"encoding":{"y":{"field":"q1","type":"quantitative","scale":{"domain":[-77,2580],"reverse":true,"nice":false,"zero":false}},"y2":{"field":"q3"}}},
{"data":{"name":"boxes"},"transform":[{"filter":"datum.panel=='Ss'&&datum.group=='cal'"}],"mark":{"type":"tick","orient":"horizontal","size":10,"thickness":3.5,"color":"black","opacity":1,"xOffset":8.5},"encoding":{"y":{"field":"med","type":"quantitative","scale":{"domain":[-77,2580],"reverse":true,"nice":false,"zero":false}}}},
{"data":{"name":"outs"},"transform":[{"filter":"datum.panel=='Ss'&&datum.group=='ens'"}],"mark":{"type":"square","size":5,"color":"black","opacity":1},"encoding":{"y":{"field":"v","type":"quantitative","scale":{"domain":[-77,2580],"reverse":true,"nice":false,"zero":false}}}},
{"data":{"name":"outs"},"transform":[{"filter":"datum.panel=='Ss'&&datum.group=='cal'"}],"mark":{"type":"square","size":5,"color":"black","opacity":1,"xOffset":8.5},"encoding":{"y":{"field":"v","type":"quantitative","scale":{"domain":[-77,2580],"reverse":true,"nice":false,"zero":false}}}}
]
},
{
"width":256,"height":253,
"encoding":{"x":{"field":"lead","type":"quantitative","scale":{"domain":[0.14,9.86],"nice":false,"zero":false},"axis":{"values":[1,2,3,4,5,6,7,8,9],"labelExpr":"datum.value%2==1?datum.label:''","title":"Lead time"}}},
"layer":[
{"data":{"name":"boxes"},"transform":[{"filter":"datum.panel=='Sc'&&datum.group=='ens'"}],"mark":{"type":"rule","strokeDash":[5,4],"strokeWidth":1.5,"color":"black","clip":true},"encoding":{"y":{"field":"lo","type":"quantitative","scale":{"domain":[-139,4665],"reverse":true,"nice":false,"zero":false},"axis":{"values":[0,1000,2000,3000,4000],"format":"d","labelExpr":"datum.value==1000||datum.value==3000?'':datum.label","title":null}},"y2":{"field":"hi"}}},
{"data":{"name":"boxes"},"transform":[{"filter":"datum.panel=='Sc'&&datum.group=='ens'"}],"mark":{"type":"tick","orient":"horizontal","size":8,"thickness":1.4,"color":"black","opacity":1,"clip":true},"encoding":{"y":{"field":"lo","type":"quantitative","scale":{"domain":[-139,4665],"reverse":true,"nice":false,"zero":false}}}},
{"data":{"name":"boxes"},"transform":[{"filter":"datum.panel=='Sc'&&datum.group=='ens'"}],"mark":{"type":"tick","orient":"horizontal","size":8,"thickness":1.4,"color":"black","opacity":1,"clip":true},"encoding":{"y":{"field":"hi","type":"quantitative","scale":{"domain":[-139,4665],"reverse":true,"nice":false,"zero":false}}}},
{"data":{"name":"boxes"},"transform":[{"filter":"datum.panel=='Sc'&&datum.group=='ens'"}],"mark":{"type":"bar","width":15,"fill":"#ADD8E6","stroke":"black","strokeWidth":1.3},"encoding":{"y":{"field":"q1","type":"quantitative","scale":{"domain":[-139,4665],"reverse":true,"nice":false,"zero":false}},"y2":{"field":"q3"}}},
{"data":{"name":"boxes"},"transform":[{"filter":"datum.panel=='Sc'&&datum.group=='ens'"}],"mark":{"type":"tick","orient":"horizontal","size":15,"thickness":3.5,"color":"black","opacity":1},"encoding":{"y":{"field":"med","type":"quantitative","scale":{"domain":[-139,4665],"reverse":true,"nice":false,"zero":false}}}},
{"data":{"name":"boxes"},"transform":[{"filter":"datum.panel=='Sc'&&datum.group=='cal'"}],"mark":{"type":"rule","strokeDash":[5,4],"strokeWidth":1.5,"color":"black","clip":true,"xOffset":8.5},"encoding":{"y":{"field":"lo","type":"quantitative","scale":{"domain":[-139,4665],"reverse":true,"nice":false,"zero":false}},"y2":{"field":"q1"}}},
{"data":{"name":"boxes"},"transform":[{"filter":"datum.panel=='Sc'&&datum.group=='cal'"}],"mark":{"type":"rule","strokeDash":[5,4],"strokeWidth":1.5,"color":"black","clip":true,"xOffset":8.5},"encoding":{"y":{"field":"q3","type":"quantitative","scale":{"domain":[-139,4665],"reverse":true,"nice":false,"zero":false}},"y2":{"field":"hi"}}},
{"data":{"name":"boxes"},"transform":[{"filter":"datum.panel=='Sc'&&datum.group=='cal'"}],"mark":{"type":"tick","orient":"horizontal","size":6,"thickness":1.4,"color":"black","opacity":1,"clip":true,"xOffset":8.5},"encoding":{"y":{"field":"lo","type":"quantitative","scale":{"domain":[-139,4665],"reverse":true,"nice":false,"zero":false}}}},
{"data":{"name":"boxes"},"transform":[{"filter":"datum.panel=='Sc'&&datum.group=='cal'"}],"mark":{"type":"tick","orient":"horizontal","size":6,"thickness":1.4,"color":"black","opacity":1,"clip":true,"xOffset":8.5},"encoding":{"y":{"field":"hi","type":"quantitative","scale":{"domain":[-139,4665],"reverse":true,"nice":false,"zero":false}}}},
{"data":{"name":"boxes"},"transform":[{"filter":"datum.panel=='Sc'&&datum.group=='cal'"}],"mark":{"type":"bar","width":10,"fill":"rgba(48,48,192,0.6)","stroke":"black","strokeWidth":1.3,"xOffset":8.5},"encoding":{"y":{"field":"q1","type":"quantitative","scale":{"domain":[-139,4665],"reverse":true,"nice":false,"zero":false}},"y2":{"field":"q3"}}},
{"data":{"name":"boxes"},"transform":[{"filter":"datum.panel=='Sc'&&datum.group=='cal'"}],"mark":{"type":"tick","orient":"horizontal","size":10,"thickness":3.5,"color":"black","opacity":1,"xOffset":8.5},"encoding":{"y":{"field":"med","type":"quantitative","scale":{"domain":[-139,4665],"reverse":true,"nice":false,"zero":false}}}},
{"data":{"name":"outs"},"transform":[{"filter":"datum.panel=='Sc'&&datum.group=='ens'"}],"mark":{"type":"square","size":5,"color":"black","opacity":1},"encoding":{"y":{"field":"v","type":"quantitative","scale":{"domain":[-139,4665],"reverse":true,"nice":false,"zero":false}}}},
{"data":{"name":"outs"},"transform":[{"filter":"datum.panel=='Sc'&&datum.group=='cal'"}],"mark":{"type":"square","size":5,"color":"black","opacity":1,"xOffset":8.5},"encoding":{"y":{"field":"v","type":"quantitative","scale":{"domain":[-139,4665],"reverse":true,"nice":false,"zero":false}}}}
]
},
{
"width":256,"height":253,
"encoding":{"x":{"field":"lead","type":"quantitative","scale":{"domain":[0.14,9.86],"nice":false,"zero":false},"axis":{"values":[1,2,3,4,5,6,7,8,9],"labelExpr":"datum.value%2==1?datum.label:''","title":"Lead time"}}},
"layer":[
{"data":{"name":"boxes"},"transform":[{"filter":"datum.panel=='Scr'&&datum.group=='ens'"}],"mark":{"type":"rule","strokeDash":[5,4],"strokeWidth":1.5,"color":"black","clip":true},"encoding":{"y":{"field":"lo","type":"quantitative","scale":{"domain":[-0.555,1.06],"nice":false,"zero":false},"axis":{"values":[-0.5,0,0.5,1],"format":".1f","labelExpr":"replace(datum.label,'\u2212','-')","title":null}},"y2":{"field":"hi"}}},
{"data":{"name":"boxes"},"transform":[{"filter":"datum.panel=='Scr'&&datum.group=='ens'"}],"mark":{"type":"tick","orient":"horizontal","size":8,"thickness":1.4,"color":"black","opacity":1,"clip":true},"encoding":{"y":{"field":"lo","type":"quantitative","scale":{"domain":[-0.555,1.06],"nice":false,"zero":false}}}},
{"data":{"name":"boxes"},"transform":[{"filter":"datum.panel=='Scr'&&datum.group=='ens'"}],"mark":{"type":"tick","orient":"horizontal","size":8,"thickness":1.4,"color":"black","opacity":1,"clip":true},"encoding":{"y":{"field":"hi","type":"quantitative","scale":{"domain":[-0.555,1.06],"nice":false,"zero":false}}}},
{"data":{"name":"boxes"},"transform":[{"filter":"datum.panel=='Scr'&&datum.group=='ens'"}],"mark":{"type":"bar","width":15,"stroke":"black","strokeWidth":1.3},"encoding":{"y":{"field":"q1","type":"quantitative","scale":{"domain":[-0.555,1.06],"nice":false,"zero":false}},"y2":{"field":"q3"},"fill":{"field":"group","type":"nominal","scale":{"domain":["ens","cal"],"range":["#ADD8E6","rgba(48,48,192,0.6)"]},"legend":{"orient":"bottom-left","direction":"horizontal","title":null,"symbolType":"square","symbolSize":225,"symbolStrokeColor":"black","symbolStrokeWidth":1.5,"labelFont":"Liberation Sans","labelFontSize":22,"labelColor":"#1a1a3a","labelOffset":16,"columnPadding":22,"offset":18,"padding":0}}}},
{"data":{"name":"boxes"},"transform":[{"filter":"datum.panel=='Scr'&&datum.group=='ens'"}],"mark":{"type":"tick","orient":"horizontal","size":15,"thickness":3.5,"color":"black","opacity":1},"encoding":{"y":{"field":"med","type":"quantitative","scale":{"domain":[-0.555,1.06],"nice":false,"zero":false}}}},
{"data":{"name":"boxes"},"transform":[{"filter":"datum.panel=='Scr'&&datum.group=='cal'"}],"mark":{"type":"rule","strokeDash":[5,4],"strokeWidth":1.5,"color":"black","clip":true,"xOffset":8.5},"encoding":{"y":{"field":"lo","type":"quantitative","scale":{"domain":[-0.555,1.06],"nice":false,"zero":false}},"y2":{"field":"q1"}}},
{"data":{"name":"boxes"},"transform":[{"filter":"datum.panel=='Scr'&&datum.group=='cal'"}],"mark":{"type":"rule","strokeDash":[5,4],"strokeWidth":1.5,"color":"black","clip":true,"xOffset":8.5},"encoding":{"y":{"field":"q3","type":"quantitative","scale":{"domain":[-0.555,1.06],"nice":false,"zero":false}},"y2":{"field":"hi"}}},
{"data":{"name":"boxes"},"transform":[{"filter":"datum.panel=='Scr'&&datum.group=='cal'"}],"mark":{"type":"tick","orient":"horizontal","size":6,"thickness":1.4,"color":"black","opacity":1,"clip":true,"xOffset":8.5},"encoding":{"y":{"field":"lo","type":"quantitative","scale":{"domain":[-0.555,1.06],"nice":false,"zero":false}}}},
{"data":{"name":"boxes"},"transform":[{"filter":"datum.panel=='Scr'&&datum.group=='cal'"}],"mark":{"type":"tick","orient":"horizontal","size":6,"thickness":1.4,"color":"black","opacity":1,"clip":true,"xOffset":8.5},"encoding":{"y":{"field":"hi","type":"quantitative","scale":{"domain":[-0.555,1.06],"nice":false,"zero":false}}}},
{"data":{"name":"boxes"},"transform":[{"filter":"datum.panel=='Scr'&&datum.group=='cal'"}],"mark":{"type":"bar","width":10,"stroke":"black","strokeWidth":1.3,"xOffset":8.5},"encoding":{"y":{"field":"q1","type":"quantitative","scale":{"domain":[-0.555,1.06],"nice":false,"zero":false}},"y2":{"field":"q3"},"fill":{"field":"group","type":"nominal","scale":{"domain":["ens","cal"],"range":["#ADD8E6","rgba(48,48,192,0.6)"]},"legend":{"orient":"bottom-left","direction":"horizontal","title":null,"symbolType":"square","symbolSize":225,"symbolStrokeColor":"black","symbolStrokeWidth":1.5,"labelFont":"Liberation Sans","labelFontSize":22,"labelColor":"#1a1a3a","labelOffset":16,"columnPadding":22,"offset":18,"padding":0}}}},
{"data":{"name":"boxes"},"transform":[{"filter":"datum.panel=='Scr'&&datum.group=='cal'"}],"mark":{"type":"tick","orient":"horizontal","size":10,"thickness":3.5,"color":"black","opacity":1,"xOffset":8.5},"encoding":{"y":{"field":"med","type":"quantitative","scale":{"domain":[-0.555,1.06],"nice":false,"zero":false}}}},
{"data":{"name":"outs"},"transform":[{"filter":"datum.panel=='Scr'&&datum.group=='ens'"}],"mark":{"type":"square","size":5,"color":"black","opacity":1},"encoding":{"y":{"field":"v","type":"quantitative","scale":{"domain":[-0.555,1.06],"nice":false,"zero":false}}}},
{"data":{"name":"outs"},"transform":[{"filter":"datum.panel=='Scr'&&datum.group=='cal'"}],"mark":{"type":"square","size":5,"color":"black","opacity":1,"xOffset":8.5},"encoding":{"y":{"field":"v","type":"quantitative","scale":{"domain":[-0.555,1.06],"nice":false,"zero":false}}}},
{"data":{"name":"arrow"},"mark":{"type":"rule","color":"#4F81BD","strokeWidth":2},"encoding":{"y":{"datum":-0.355,"type":"quantitative"},"y2":{"datum":0.81}}},
{"data":{"name":"arrow"},"mark":{"type":"point","shape":"triangle-up","filled":true,"size":225,"color":"#4F81BD","opacity":1},"encoding":{"y":{"datum":0.847,"type":"quantitative"}}},
{"data":{"name":"better_bottom"},"mark":{"type":"text","angle":270,"font":"Liberation Serif","fontSize":25,"color":"black","align":"center","baseline":"middle"},"encoding":{"y":{"datum":0.335,"type":"quantitative"},"text":{"field":"label"}}}
]
}
],
"config":{
"view":{"stroke":"black","strokeWidth":1.5},
"axis":{"domain":false,"grid":false,"tickColor":"black","tickSize":7,"tickWidth":1.3,"labelFont":"Liberation Sans","labelFontSize":20,"labelColor":"black","labelOverlap":false,"titleFont":"Liberation Sans","titleColor":"black"},
"axisX":{"labelPadding":7,"titleFontSize":28,"titleFontWeight":"normal","titlePadding":6},
"axisY":{"labelAngle":270,"labelAlign":"center","labelBaseline":"bottom","labelPadding":9,"titleFontSize":27,"titleFontWeight":"bold","titlePadding":14},
"title":{"font":"Liberation Sans","fontSize":27,"fontWeight":"bold","color":"black","offset":-2}
}
}
